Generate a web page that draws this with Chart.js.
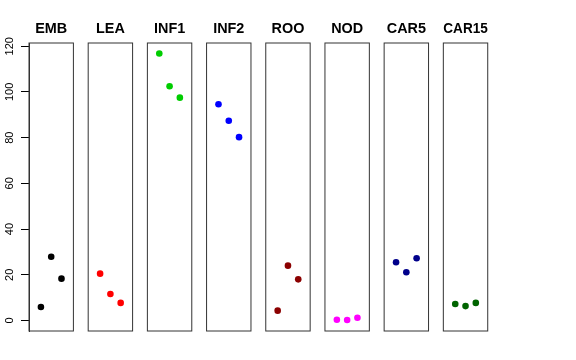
<!DOCTYPE html>
<html>
<head>
<meta charset="utf-8">
<script src="https://cdn.jsdelivr.net/npm/chart.js@4"></script>
<style>
  body { margin: 0; background: #fff; }
  #wrap { position: relative; width: 576px; height: 360px; overflow: hidden; }
  #wrap canvas { position: absolute; top: 0; }
</style>
</head>
<body>
<div id="wrap"></div>
<script>
const categories = ['EMB', 'LEA', 'INF1', 'INF2', 'ROO', 'NOD', 'CAR5', 'CAR15'];
const replicate = [1, 2, 3];
const emb = [5.9, 27.9, 18.3];
const lea = [20.5, 11.6, 7.7];
const inf1 = [116.8, 102.5, 97.5];
const inf2 = [94.6, 87.4, 80.2];
const roo = [4.3, 24.0, 18.0];
const nod = [0.3, 0.2, 1.2];
const car5 = [25.5, 21.1, 27.2];
const car15 = [7.2, 6.3, 7.7];
const yTicks = [0, 20, 40, 60, 80, 100, 120];

const series = [emb, lea, inf1, inf2, roo, nod, car5, car15];
const colors = ['#000000', '#ff0000', '#00cd00', '#0000ff', '#8b0000', '#ff00ff', '#00008b', '#006400'];

const FONT = "'Liberation Sans', Arial, Helvetica, sans-serif";

// draws the box round each panel
const boxPlugin = {
    id: 'box',
    afterDraw(chart) {
        const a = chart.chartArea;
        const ctx = chart.ctx;
        ctx.save();
        ctx.strokeStyle = '#333';
        ctx.lineWidth = 1;
        ctx.strokeRect(a.left, a.top, a.right - a.left, a.bottom - a.top);
        ctx.restore();
    }
};

const wrap = document.getElementById('wrap');
const boxW = 44.4;
const step = 59.19;
const axisW = 29;

categories.forEach(function (name, i) {
    const boxLeft = 29 + step * i;
    const first = i === 0;
    const canvasLeft = first ? 0 : Math.floor(boxLeft) - 7;
    const canvasW = first ? 80 : 59;
    const padLeft = first ? 0 : boxLeft - canvasLeft;
    const padRight = canvasW - (boxLeft + boxW - canvasLeft);

    const canvas = document.createElement('canvas');
    canvas.width = canvasW;
    canvas.height = 360;
    canvas.style.left = canvasLeft + 'px';
    wrap.appendChild(canvas);

    const yScale = {
        type: 'linear',
        display: first,
        min: -4.6,
        max: 121.4,
    };
    if (first) {
        Object.assign(yScale, {
            afterBuildTicks: function (scale) {
                scale.ticks = yTicks.map(v => ({ value: v }));
            },
            afterFit: function (scale) {
                scale.width = axisW;
            },
            grid: {
                display: true,
                drawOnChartArea: false,
                drawTicks: true,
                tickLength: 8,
                color: '#000',
            },
            border: { display: true, color: '#333' },
            ticks: {
                color: '#000',
                font: { family: FONT, size: 11 },
                minRotation: 90,
                maxRotation: 90,
                crossAlign: 'center',
                padding: 2,
            },
        });
    }

    new Chart(canvas.getContext('2d'), {
        type: 'scatter',
        data: {
            datasets: [{
                data: replicate.map((x, k) => ({ x: x, y: series[i][k] })),
                backgroundColor: colors[i],
                borderWidth: 0,
                pointRadius: 3.3,
                pointHoverRadius: 3.3,
            }],
        },
        options: {
            responsive: false,
            animation: false,
            events: [],
            layout: { padding: { left: padLeft, right: padRight, top: 0, bottom: 29 } },
            plugins: {
                legend: { display: false },
                tooltip: { enabled: false },
                title: {
                    display: true,
                    text: name,
                    fullSize: false,
                    color: '#000',
                    font: { family: FONT, size: 14.4, weight: 'bold', lineHeight: 1.2 },
                    padding: { top: 20, bottom: 43 - 20 - 14.4 * 1.2 },
                },
            },
            scales: {
                x: {
                    type: 'linear',
                    display: false,
                    min: -0.16,
                    max: 4.16,
                },
                y: yScale,
            },
        },
        plugins: [boxPlugin],
    });
});
</script>
</body>
</html>
